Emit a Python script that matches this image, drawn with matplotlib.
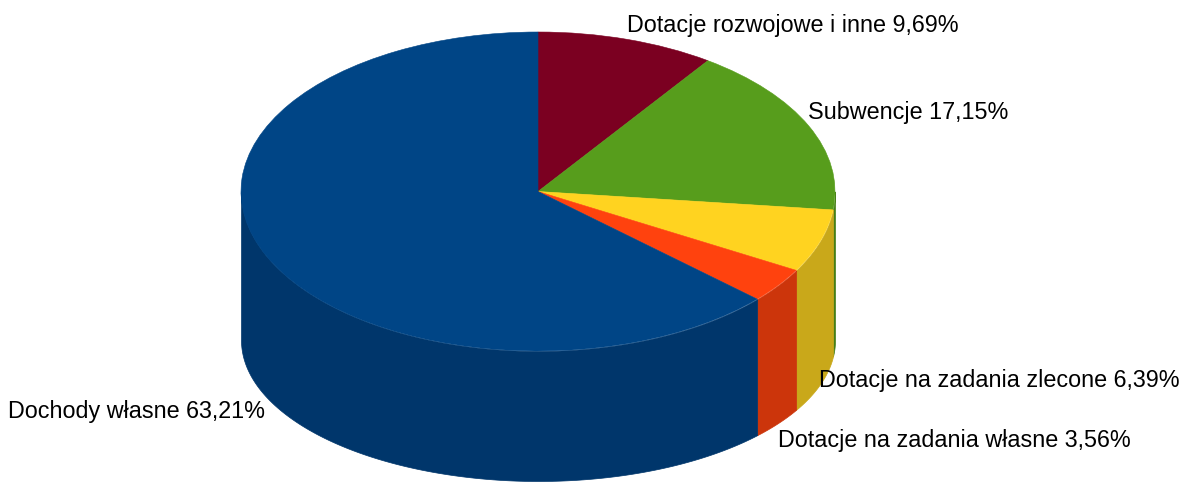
import numpy as np
import matplotlib
matplotlib.use('Agg')
import matplotlib.pyplot as plt

labels = ['Dotacje rozwojowe i inne 9,69%', 'Subwencje 17,15%',
          'Dotacje na zadania zlecone 6,39%', 'Dotacje na zadania własne 3,56%',
          'Dochody własne 63,21%']
values = [9.69, 17.15, 6.39, 3.56, 63.21]
top_colors = ['#7b0021', '#579d1c', '#ffd320', '#ff420e', '#004586']
side_colors = ['#62001a', '#467e16', '#c9a81a', '#cc350b', '#00366b']

W, H = 1179, 484
cx, cy = 538, 191.5  # pie centre in pixels
rx, ry = 297, 159.5
# lower rim is a flatter ellipse (perspective of the original)
cy_low, ry_low = 340, 141

plt.rcParams['font.family'] = ['Liberation Sans', 'DejaVu Sans']

fig = plt.figure(figsize=(W / 100, H / 100), dpi=100)
ax = fig.add_axes([0, 0, 1, 1])
ax.set_xlim(0, W)
ax.set_ylim(H, 0)
ax.axis('off')

# side walls, one per slice, only the part facing the viewer
edges = 90 - 360 * np.cumsum([0] + values) / sum(values)
for i in range(len(values)):
    a = np.radians(np.linspace(edges[i], edges[i + 1], 300))
    a = a[np.sin(a) <= 0]
    if len(a) == 0:
        continue
    x = cx + rx * np.cos(a)
    ax.fill_between(x, cy - ry * np.sin(a), cy_low - ry_low * np.sin(a),
                    color=side_colors[i], lw=0.5)

# top face: ordinary pie on its own axes, squashed to an ellipse
ax_top = fig.add_axes([(cx - rx) / W, (H - cy - ry) / H, 2 * rx / W, 2 * ry / H])
wedges, _ = ax_top.pie(values, colors=top_colors, startangle=90, counterclock=False,
                       wedgeprops={'linewidth': 0.4})
for w, c in zip(wedges, top_colors):
    w.set_edgecolor(c)
    w.set_clip_on(False)
ax_top.set_aspect('auto')
ax_top.set_xlim(-1, 1)
ax_top.set_ylim(-1, 1)
ax_top.patch.set_alpha(0)

fs = 16.85
ax.text(627, 25.5, labels[0], fontsize=fs, va='center', color='black')
ax.text(808, 112.5, labels[1], fontsize=fs, va='center', color='black')
ax.text(819, 380.5, labels[2], fontsize=fs, va='center', color='black')
ax.text(778, 440.5, labels[3], fontsize=fs, va='center', color='black')
ax.text(8, 411.5, labels[4], fontsize=fs, va='center', color='black')

fig.savefig('out.png', dpi=100)
